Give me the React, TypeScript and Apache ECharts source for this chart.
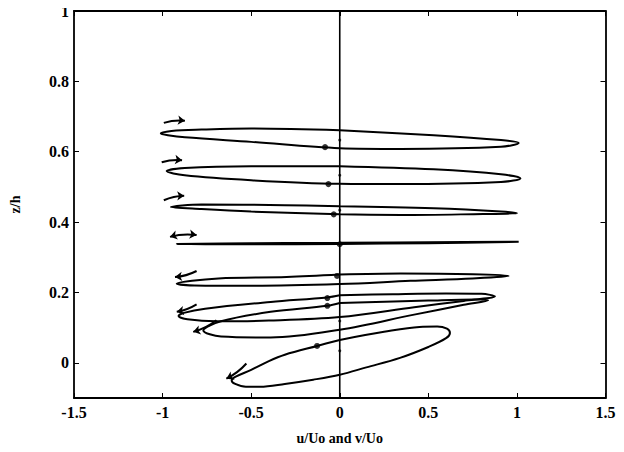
import React, { useEffect, useRef } from "react";
import * as echarts from "echarts";

// Hodograph-like loops: [u/Uo, z/h]
const loop1 = [[0,0.661],[0.53,0.647],[0.91,0.633],[1.01,0.625],[0.91,0.614],[0.345,0.608],[0,0.610],[-0.5,0.628],[-0.874,0.641],[-0.97,0.647],[-1.01,0.652],[-0.95,0.659],[-0.78,0.663],[-0.5,0.666],[0,0.661]];
const loop2 = [[0,0.559],[0.53,0.550],[0.91,0.536],[1.02,0.524],[0.91,0.514],[0.345,0.508],[0,0.509],[-0.5,0.519],[-0.875,0.533],[-0.977,0.545],[-0.875,0.554],[-0.5,0.559],[0,0.559]];
const loop3 = [[0,0.445],[0.53,0.439],[0.91,0.430],[1.0,0.425],[0.81,0.423],[0.345,0.420],[0,0.422],[-0.5,0.430],[-0.78,0.437],[-0.953,0.443],[-0.78,0.450],[-0.31,0.448],[0,0.445]];
const loop4 = [[0,0.341],[0.5,0.343],[1.01,0.344],[0.5,0.340],[0,0.338],[-0.5,0.337],[-0.92,0.338],[-0.5,0.340],[0,0.341]];
const loop5 = [[0,0.251],[0.345,0.254],[0.75,0.252],[0.954,0.247],[0.75,0.240],[0.4,0.233],[0,0.224],[-0.5,0.219],[-0.82,0.220],[-0.92,0.225],[-0.685,0.240],[-0.3,0.244],[0,0.251]];
const loop6 = [[0,0.192],[0.3,0.195],[0.6,0.197],[0.8,0.196],[0.876,0.189],[0.7,0.176],[0.42,0.158],[0,0.130],[-0.4,0.120],[-0.7,0.118],[-0.86,0.124],[-0.91,0.133],[-0.88,0.142],[-0.76,0.154],[-0.39,0.173],[-0.07,0.186],[0,0.192]];
const loop7 = [[0,0.170],[0.5,0.177],[0.76,0.180],[0.838,0.178],[0.7,0.165],[0.42,0.137],[0,0.094],[-0.39,0.072],[-0.67,0.075],[-0.77,0.092],[-0.67,0.118],[-0.39,0.145],[-0.07,0.162],[0,0.170]];
const loop8 = [[0,0.065],[0.25,0.088],[0.45,0.102],[0.55,0.103],[0.605,0.097],[0.622,0.085],[0.6,0.07],[0.5,0.045],[0.34,0.014],[0.15,-0.013],[0,-0.034],[-0.15,-0.048],[-0.31,-0.06],[-0.45,-0.068],[-0.53,-0.068],[-0.59,-0.06],[-0.61,-0.05],[-0.59,-0.04],[-0.5,-0.02],[-0.4,0.005],[-0.31,0.023],[-0.128,0.048],[0,0.065]];

const loops = [loop1, loop2, loop3, loop4, loop5, loop6, loop7, loop8];

// Phase markers (large dots) and small dots on the zero line
const bigDots = [[-0.083,0.613],[-0.064,0.508],[-0.034,0.422],[0,0.337],[-0.015,0.247],[-0.07,0.184],[-0.07,0.162],[-0.128,0.048]];
const smallDots = [[0,0.633],[0,0.533],[0,0.434],[0,0.119],[0,0.034]];

// Direction arrows: [start, end]
const arrowsFwd = [
  [[-0.993,0.682],[-0.874,0.688]],
  [[-1.005,0.570],[-0.89,0.576]],
  [[-0.993,0.462],[-0.878,0.475]],
  [[-0.808,0.261],[-0.93,0.244]],
  [[-0.808,0.166],[-0.92,0.145]],
  [[-0.696,0.121],[-0.827,0.088]],
  [[-0.527,-0.002],[-0.64,-0.045]],
];
const arrowsBoth = [[[-0.958,0.358],[-0.808,0.363]]];

const zeroLine = [[0,-0.1],[0,1]];

const xTicks = [-1.5, -1, -0.5, 0, 0.5, 1, 1.5];
const yTicks = [0, 0.2, 0.4, 0.6, 0.8, 1];

const FONT = "'Liberation Serif', 'Times New Roman', serif";

export default function App() {
  const ref = useRef<HTMLDivElement>(null);
  useEffect(() => {
    if (!ref.current) return;
    const chart = echarts.init(ref.current, undefined, { renderer: "svg" });
    const black = "#000";
    const axisCommon = {
      axisLine: { show: true, onZero: false, lineStyle: { color: black, width: 1.8 } },
      splitLine: { show: false },
    };
    const series: any[] = [];
    loops.forEach((l) => {
      series.push({
        type: "line",
        data: l,
        smooth: 0.35,
        symbol: "none",
        lineStyle: { color: black, width: 2 },
        z: 3,
      });
    });
    series.push({
      type: "line",
      data: zeroLine,
      symbol: "none",
      lineStyle: { color: black, width: 1.6 },
      z: 2,
    });
    series.push({
      type: "scatter",
      data: bigDots,
      symbolSize: 6,
      itemStyle: { color: black },
      z: 4,
    });
    series.push({
      type: "scatter",
      data: smallDots,
      symbolSize: 3,
      itemStyle: { color: black },
      z: 4,
    });
    series.push({
      type: "lines",
      coordinateSystem: "cartesian2d",
      data: arrowsFwd.map((c) => ({ coords: c })),
      symbol: ["none", "arrow"],
      symbolSize: 7,
      lineStyle: { color: black, width: 2, opacity: 1, curveness: 0.1 },
      z: 4,
    });
    series.push({
      type: "lines",
      coordinateSystem: "cartesian2d",
      data: arrowsBoth.map((c) => ({ coords: c })),
      symbol: ["arrow", "arrow"],
      symbolSize: 7,
      lineStyle: { color: black, width: 2, opacity: 1, curveness: 0.1 },
      z: 4,
    });

    chart.setOption({
      animation: false,
      backgroundColor: "#fff",
      grid: { left: 72, right: 18.5, top: 11, bottom: 54, containLabel: false },
      xAxis: [
        {
          type: "value",
          min: -1.5,
          max: 1.5,
          interval: 0.5,
          position: "bottom",
          ...axisCommon,
          axisTick: { show: true, inside: true, length: 5, lineStyle: { color: black, width: 1 }, customValues: xTicks },
          axisLabel: {
            customValues: xTicks,
            color: black,
            fontFamily: FONT,
            fontWeight: "bold",
            fontSize: 16,
            margin: 6,
          },
          name: "u/Uo and v/Uo",
          nameLocation: "middle",
          nameGap: 33,
          nameTextStyle: { color: black, fontFamily: FONT, fontWeight: "bold", fontSize: 14 },
        },
        {
          type: "value",
          min: -1.5,
          max: 1.5,
          interval: 0.5,
          position: "top",
          ...axisCommon,
          axisTick: { show: true, inside: true, length: 5, lineStyle: { color: black, width: 1 }, customValues: xTicks },
          axisLabel: { show: false },
        },
      ],
      yAxis: [
        {
          type: "value",
          min: -0.1,
          max: 1,
          position: "left",
          ...axisCommon,
          axisTick: { show: true, inside: true, length: 5, lineStyle: { color: black, width: 1 }, customValues: yTicks },
          axisLabel: {
            customValues: yTicks,
            color: black,
            fontFamily: FONT,
            fontWeight: "bold",
            fontSize: 16,
            margin: 5,
          },
          name: "z/h",
          nameLocation: "middle",
          nameRotate: 90,
          nameGap: 52,
          nameTextStyle: { color: black, fontFamily: FONT, fontWeight: "bold", fontSize: 14 },
        },
        {
          type: "value",
          min: -0.1,
          max: 1,
          position: "right",
          ...axisCommon,
          axisTick: { show: true, inside: true, length: 5, lineStyle: { color: black, width: 1 }, customValues: yTicks },
          axisLabel: { show: false },
        },
      ],
      series,
    });
    return () => chart.dispose();
  }, []);
  return <div ref={ref} style={{ width: 624, height: 452, margin: -8 }} />;
}
